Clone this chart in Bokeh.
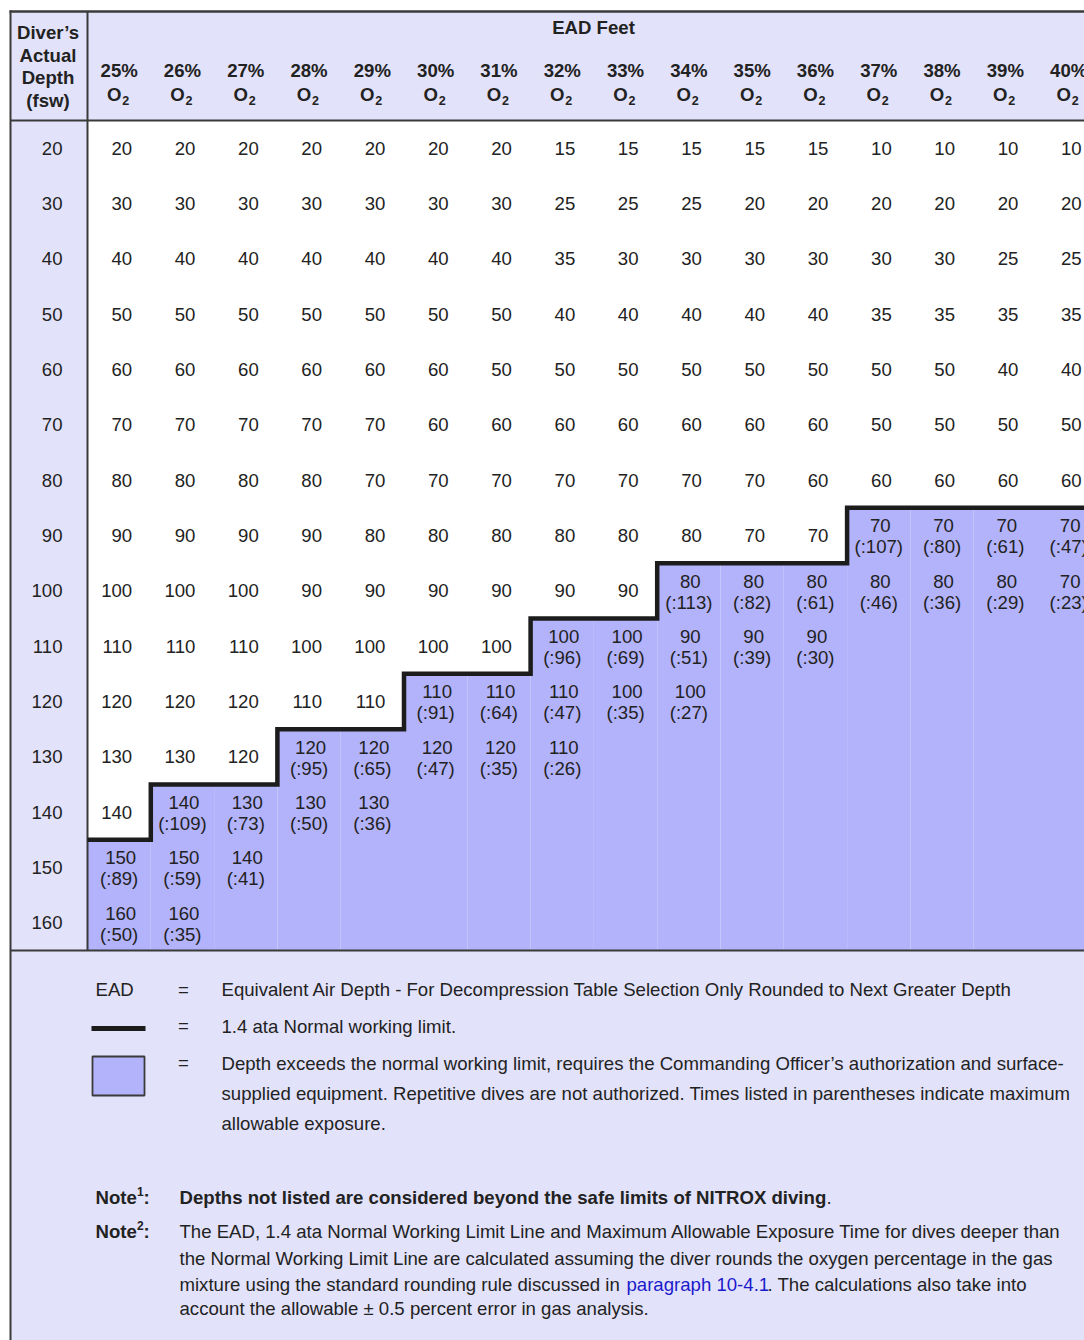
from bokeh.plotting import figure
from bokeh.models import Range1d
from bokeh.core.properties import value
from bokeh.embed import file_html
from bokeh.resources import INLINE

# ---------------- data ----------------
depths = [20, 30, 40, 50, 60, 70, 80, 90, 100, 110, 120, 130, 140, 150, 160]
o2_pcts = ["25%", "26%", "27%", "28%", "29%", "30%", "31%", "32%",
           "33%", "34%", "35%", "36%", "37%", "38%", "39%", "40%"]
N = None
ead = [
    [20, 20, 20, 20, 20, 20, 20, 15, 15, 15, 15, 15, 10, 10, 10, 10],
    [30, 30, 30, 30, 30, 30, 30, 25, 25, 25, 20, 20, 20, 20, 20, 20],
    [40, 40, 40, 40, 40, 40, 40, 35, 30, 30, 30, 30, 30, 30, 25, 25],
    [50, 50, 50, 50, 50, 50, 50, 40, 40, 40, 40, 40, 35, 35, 35, 35],
    [60, 60, 60, 60, 60, 60, 50, 50, 50, 50, 50, 50, 50, 50, 40, 40],
    [70, 70, 70, 70, 70, 60, 60, 60, 60, 60, 60, 60, 50, 50, 50, 50],
    [80, 80, 80, 80, 70, 70, 70, 70, 70, 70, 70, 60, 60, 60, 60, 60],
    [90, 90, 90, 90, 80, 80, 80, 80, 80, 80, 70, 70, 70, 70, 70, 70],
    [100, 100, 100, 90, 90, 90, 90, 90, 90, 80, 80, 80, 80, 80, 80, 70],
    [110, 110, 110, 100, 100, 100, 100, 100, 100, 90, 90, 90, N, N, N, N],
    [120, 120, 120, 110, 110, 110, 110, 110, 100, 100, N, N, N, N, N, N],
    [130, 130, 120, 120, 120, 120, 120, 110, N, N, N, N, N, N, N, N],
    [140, 140, 130, 130, 130, N, N, N, N, N, N, N, N, N, N, N],
    [150, 150, 140, N, N, N, N, N, N, N, N, N, N, N, N, N],
    [160, 160, N, N, N, N, N, N, N, N, N, N, N, N, N, N],
]
times = [
    [N] * 16,
    [N] * 16,
    [N] * 16,
    [N] * 16,
    [N] * 16,
    [N] * 16,
    [N] * 16,
    [N] * 12 + [107, 80, 61, 47],
    [N] * 9 + [113, 82, 61, 46, 36, 29, 23],
    [N] * 7 + [96, 69, 51, 39, 30] + [N] * 4,
    [N] * 5 + [91, 64, 47, 35, 27] + [N] * 6,
    [N] * 3 + [95, 65, 47, 35, 26] + [N] * 8,
    [N] * 1 + [109, 73, 50, 36] + [N] * 11,
    [89, 59, 41] + [N] * 13,
    [50, 35] + [N] * 14,
]
header_title = "EAD Feet"
depth_header = ["Diver\u2019s", "Actual", "Depth", "(fsw)"]
legend_lines = [
    "Equivalent Air Depth - For Decompression Table Selection Only Rounded to Next Greater Depth",
    "1.4 ata Normal working limit.",
    "Depth exceeds the normal working limit, requires the Commanding Officer\u2019s authorization and surface-",
    "supplied equipment. Repetitive dives are not authorized. Times listed in parentheses indicate maximum",
    "allowable exposure.",
]
note1 = "Depths not listed are considered beyond the safe limits of NITROX diving"
note2_lines = [
    "The EAD, 1.4 ata Normal Working Limit Line and Maximum Allowable Exposure Time for dives deeper than",
    "the Normal Working Limit Line are calculated assuming the diver rounds the oxygen percentage in the gas",
]
note2_l3 = ["mixture using the standard rounding rule discussed in", "paragraph 10-4.1", ". The calculations also take into"]
note2_l4 = "account the allowable \u00b1 0.5 percent error in gas analysis."

# ---------------- layout helpers ----------------
W, H = 1084, 1340
CW, RH = 63.3, 55.33
X0P, Y0P = 87.0, 120.0  # page position of table body origin


def px(xp):
    return (xp - X0P) / CW


def py(yp):
    return (yp - Y0P) / RH


NR, NC = len(depths), len(o2_pcts)
FONT = value("Liberation Sans")
FS = "18.6px"
TXT = "#222222"
LAV = "#e2e2fa"
BLUE = "#b3b3fc"
LINE = "#3a3a3a"

p = figure(width=W, height=H, output_backend="svg", toolbar_location=None,
           x_range=Range1d(px(0), px(W)), y_range=Range1d(py(H), py(0)),
           x_axis_location=None, y_axis_location=None, min_border=0)
p.grid.visible = False
p.outline_line_color = None
p.background_fill_color = "white"
p.border_fill_color = "white"

# backgrounds
p.quad(left=[px(10), px(10), px(10)], right=[NC + 2, 0, NC + 2],
       top=[py(11), 0, NR], bottom=[0, NR, py(1400)],
       fill_color=LAV, line_color=None)

# blue (beyond-limit) region, per column from first timed row
limit_row = []
for c in range(NC):
    r0 = next(r for r in range(NR) if times[r][c] is not None)
    limit_row.append(r0)
p.quad(left=list(range(NC)), right=[c + 1 for c in range(NC)],
       top=limit_row, bottom=[NR] * NC, fill_color=BLUE, line_color=None)

# grid frame lines
p.line(x=[px(9), NC + 2], y=[py(11), py(11)], line_color=LINE, line_width=2.5)
p.line(x=[px(10), px(10)], y=[py(10), py(1400)], line_color=LINE, line_width=2)
p.line(x=[0, 0], y=[py(11), NR], line_color=LINE, line_width=2)
p.line(x=[px(10), NC + 2], y=[0, 0], line_color=LINE, line_width=2)
p.line(x=[px(10), NC + 2], y=[NR, NR], line_color=LINE, line_width=2)

# step limit line
p.step(x=list(range(NC + 1)), y=limit_row + [limit_row[-1]], mode="after",
       line_color="#1c1c1c", line_width=4.5, line_join="miter")


def txt(x, y, s, size=FS, bold=False, align="left", color=TXT, xo=0, yo=0):
    p.text(x=x, y=y, text=s, text_font=FONT, text_font_size=size,
           text_font_style="bold" if bold else "normal", text_align=align,
           text_baseline="middle", text_color=color, x_offset=xo, y_offset=yo)


# header
txt([px(47.5)] * 4, [py(32), py(54.5), py(77), py(99.5)], depth_header, bold=True, align="center")
txt([px(593)], [py(27)], [header_title], bold=True, align="center")
cx = [c + 0.5 for c in range(NC)]
txt(cx, [py(70)] * NC, o2_pcts, bold=True, align="center")
txt(cx, [py(93.5)] * NC, ["O"] * NC, bold=True, align="center", xo=-5)
txt(cx, [py(99.5)] * NC, ["2"] * NC, size="12.5px", bold=True, align="center", xo=6.5)

# depth column
txt([0] * NR, [r + 0.5 for r in range(NR)], [str(d) for d in depths], align="right", xo=-25)

# body cells
wx, wy, wt = [], [], []
bx, by, bt, bm = [], [], [], []
for r in range(NR):
    for c in range(NC):
        v = ead[r][c]
        if v is None:
            continue
        if times[r][c] is None:
            wx.append(c + 0.5); wy.append(r + 0.5); wt.append(str(v))
        else:
            bx.append(c + 0.5); by.append(r + 0.5); bt.append(str(v))
            bm.append("(:%d)" % times[r][c])
txt(wx, wy, wt, align="right", xo=13)
txt(bx, by, bt, align="center", yo=-9.5, xo=1.5)
txt(bx, by, bm, align="center", yo=11.5)

# legend
txt([px(95)], [py(989)], ["EAD"])
txt([px(183)] * 3, [py(989), py(1025), py(1062)], ["=", "=", "="], align="center")
txt([px(221)] * 5, [py(989), py(1026), py(1063), py(1093), py(1123)], legend_lines)
p.line(x=[px(91), px(145)], y=[py(1028), py(1028)], line_color="#1c1c1c", line_width=5)
p.quad(left=[px(92)], right=[px(144)], top=[py(1056)], bottom=[py(1095)],
       fill_color=BLUE, line_color=LINE, line_width=1.8)

# notes
txt([px(95)] * 2, [py(1197), py(1231)], ["Note", "Note"], bold=True)
txt([px(136.5)] * 2, [py(1191), py(1225)], ["1", "2"], size="12px", bold=True)
txt([px(143)] * 2, [py(1197), py(1231)], [":", ":"], bold=True)
txt([px(179)], [py(1197)], [note1], bold=True)
txt([px(826)], [py(1197)], ["."])
txt([px(179)] * 2, [py(1231), py(1258)], note2_lines)
txt([px(179)], [py(1284)], [note2_l3[0]])
txt([px(626)], [py(1284)], [note2_l3[1]], color="#1a1acc")
txt([px(767)], [py(1284)], [note2_l3[2]])
txt([px(179)], [py(1308)], [note2_l4])

open("out.html", "w").write(file_html(p, INLINE))
